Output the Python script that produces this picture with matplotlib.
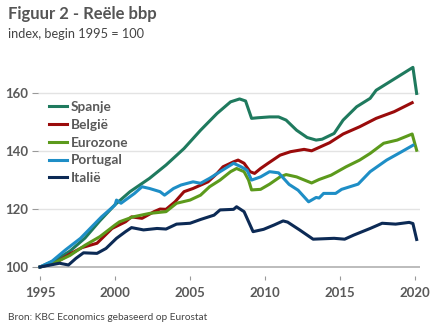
import matplotlib
matplotlib.use("Agg")
import matplotlib.pyplot as plt

plt.rcParams['font.family'] = ['Lato', 'DejaVu Sans']

# data (decimal year, index 1995 = 100)
spanje_x = [1995, 1996, 1997, 1998, 1999, 2000, 2001, 2002.3, 2003.4, 2004.6, 2005.7,
            2006.8, 2007.7, 2008.3, 2008.7, 2009.1, 2009.5, 2010.3, 2010.9, 2011.4,
            2012.1, 2012.8, 2013.4, 2013.8, 2014.6, 2015.2, 2016.1, 2017.0, 2017.4,
            2018.3, 2019.2, 2019.85, 2020.1]
spanje_y = [100, 102.3, 105.5, 110, 116, 121.5, 126, 130.6, 135.2, 140.9, 147.2,
            153, 157, 158, 157.3, 151.3, 151.5, 151.8, 151.8, 150.7,
            147.2, 144.7, 143.8, 144.1, 146.1, 150.7, 155.3, 158.2, 161,
            163.9, 166.8, 168.9, 159.9]

belgie_x = [1995, 1996, 1997, 1997.8, 1998.8, 1999.8, 2000.7, 2001.1, 2001.8, 2002.6,
            2003.0, 2003.4, 2004.0, 2004.6, 2005.2, 2006.2, 2006.8, 2007.2, 2007.9,
            2008.2, 2008.6, 2009.0, 2009.3, 2009.7, 2010.2, 2011.0, 2011.7, 2012.6,
            2013.1, 2013.7, 2014.3, 2015.2, 2016.3, 2017.4, 2018.6, 2019.8]
belgie_y = [100, 101.3, 104.5, 106.7, 108.2, 113.3, 115.6, 117.3, 116.8, 119.1,
            120, 119.9, 122.5, 126, 127.1, 129.4, 132.3, 134.6, 136.3,
            136.9, 135.8, 132.9, 132.3, 134, 135.8, 138.6, 139.8, 140.6,
            140.1, 141.5, 142.9, 145.9, 148.4, 151.3, 153.6, 156.7]

euro_x = [1995, 1996, 1997, 1998, 1999, 2000, 2000.3, 2001.2, 2002.3, 2003.4, 2004.1,
          2005, 2005.7, 2006.3, 2007, 2007.7, 2008.1, 2008.6, 2008.9, 2009.1, 2009.7,
          2010.3, 2011.0, 2011.4, 2012.1, 2013.1, 2013.6, 2014.4, 2015.4, 2016.3,
          2017.0, 2017.9, 2018.8, 2019.8, 2020.1]
euro_y = [100, 101.5, 104, 107.5, 110.5, 114.5, 115.6, 117.3, 118.5, 119.1, 122,
          123.1, 124.8, 127.7, 130, 132.9, 134, 132.9, 130, 126.6, 126.8,
          128.6, 131.1, 131.9, 131.1, 129, 130.2, 131.7, 134.6, 136.9,
          139.2, 142.7, 143.8, 145.9, 140.3]

portugal_x = [1995, 1995.8, 1996.7, 1997.7, 1999.1, 2000.0, 2000.1, 2000.4, 2001.3,
              2001.8, 2002.3, 2003.0, 2003.3, 2003.9, 2004.4, 2005.2, 2005.7, 2006.3,
              2007.0, 2007.9, 2008.4, 2008.8, 2009.1, 2009.7, 2010.3, 2010.9, 2011.6,
              2012.2, 2012.9, 2013.4, 2013.6, 2013.9, 2014.7, 2015.1, 2016.2, 2017.0,
              2018.1, 2019.0, 2019.85]
portugal_y = [100, 102, 105.9, 109.9, 117.3, 121.4, 123.1, 122, 125.4,
              127.7, 127.1, 126, 124.8, 127.1, 128.3, 129.4, 128.9, 130.6,
              132.9, 135.8, 134.6, 133.4, 130, 131.1, 132.9, 132.5, 128.5,
              126.5, 122.5, 124, 123.8, 125.4, 125.4, 126.8, 128.6, 132.9,
              136.9, 139.5, 142]

italie_x = [1995, 1995.5, 1996.3, 1996.9, 1997.4, 1997.9, 1998.8, 1999.4, 2000.1,
            2000.7, 2001.1, 2001.9, 2002.8, 2003.4, 2004.1, 2005, 2005.7, 2006.6,
            2007, 2007.9, 2008.1, 2008.6, 2009.2, 2009.9, 2010.6, 2011.2, 2011.5,
            2012.3, 2013.2, 2014.6, 2015.3, 2015.9, 2017.0, 2017.8, 2018.7, 2019.6,
            2019.85, 2020.1]
italie_y = [100, 100.5, 101.3, 100.7, 103, 104.9, 104.7, 106.4, 109.9,
            112.2, 113.6, 112.8, 113.3, 113.1, 114.8, 115.1, 116.4, 117.9,
            119.7, 119.9, 120.8, 119.1, 112.2, 113, 114.5, 115.9, 115.5,
            112.8, 109.6, 109.9, 109.6, 111, 113.3, 115.1, 114.8, 115.4,
            115, 109.5]

series = [
    ("Spanje", spanje_x, spanje_y, "#1f7a5e"),
    ("België", belgie_x, belgie_y, "#9a0b0b"),
    ("Eurozone", euro_x, euro_y, "#5c9a1c"),
    ("Portugal", portugal_x, portugal_y, "#1e8ec6"),
    ("Italië", italie_x, italie_y, "#0c2a55"),
]

xticks = [1995, 2000, 2005, 2010, 2015, 2020]
yticks = [100, 120, 140, 160]
grey = "#595959"

fig = plt.figure(figsize=(4.34, 3.34), dpi=100)
ax = fig.add_axes([0.0876, 0.1737, 0.8804, 0.6463])

for y in yticks[1:]:
    ax.axhline(y, color="#e3e3e3", lw=1, zorder=0)
ax.axhline(100, color="#b0b0b0", lw=1.2, zorder=0)

for name, xs, ys, col in series:
    ax.plot(xs, ys, color=col, lw=2.2, label=name, solid_joinstyle="round")

ax.set_xlim(1994.87, 2020.33)
ax.set_ylim(96.9, 171.4)
ax.set_xticks(xticks)
ax.set_yticks(yticks)
for s in ax.spines.values():
    s.set_visible(False)
ax.tick_params(axis="x", length=3, width=0.8, color="#999999", pad=5,
               labelsize=9.5, labelcolor=grey)
ax.tick_params(axis="y", length=4, width=0.8, color="#999999", pad=3,
               labelsize=9.5, labelcolor=grey)
for lbl in ax.get_xticklabels() + ax.get_yticklabels():
    lbl.set_fontweight("bold")

leg = ax.legend(loc="upper left", bbox_to_anchor=(0.03, 0.81), frameon=False,
                handlelength=1.3, handletextpad=0.25, labelspacing=0.42,
                borderpad=0, borderaxespad=0, prop={"weight": "bold", "size": 9.8})
for t in leg.get_texts():
    t.set_color(grey)

fig.text(0.018, 0.958, "Figuur 2 - Reële bbp", fontsize=12, fontweight="bold",
         color="#555555", va="center")
fig.text(0.018, 0.897, "index, begin 1995 = 100", fontsize=9.2, color="#444444",
         va="center")
fig.text(0.018, 0.048, "Bron: KBC Economics gebaseerd op Eurostat", fontsize=7.3,
         color="#444444", va="center")

plt.savefig("out.png", dpi=100)
